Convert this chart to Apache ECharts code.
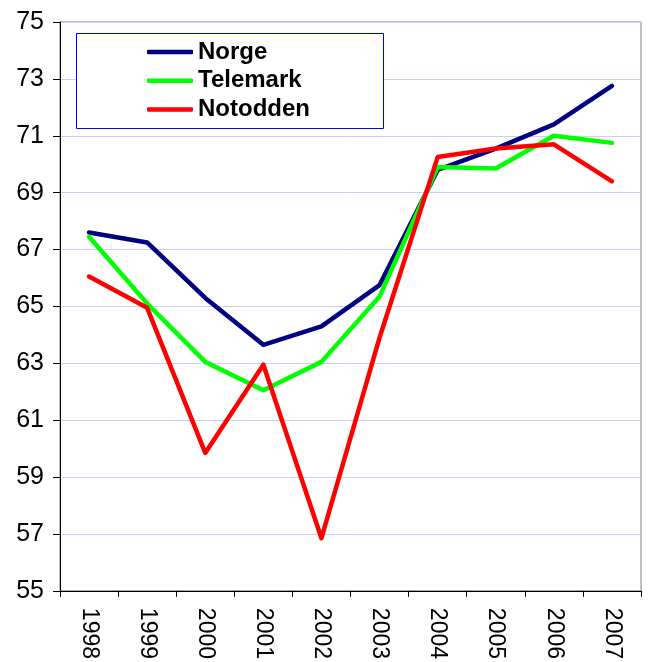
<!DOCTYPE html>
<html><head><meta charset="utf-8">
<script src="https://cdn.jsdelivr.net/npm/echarts@6/dist/echarts.min.js"></script>
<style>html,body{margin:0;padding:0;background:#fff}#c{width:649px;height:662px}</style>
</head><body><div id="c"></div>
<script>
var years = ['1998','1999','2000','2001','2002','2003','2004','2005','2006','2007'];
var norge = [67.6, 67.25, 65.3, 63.65, 64.3, 65.75, 69.8, 70.55, 71.4, 72.75];
var telemark = [67.45, 65.1, 63.05, 62.05, 63.05, 65.35, 69.9, 69.85, 71.0, 70.75];
var notodden = [66.05, 64.95, 59.85, 62.95, 56.85, 63.9, 70.25, 70.55, 70.7, 69.4];
var yTicks = {min: 55, max: 75, interval: 2};

var chart = echarts.init(document.getElementById('c'));
var font = 'Liberation Sans, Arial, sans-serif';
function ser(name, data, color) {
  return {name: name, type: 'line', data: data, symbol: 'none', smooth: false,
    lineStyle: {color: color, width: 4.5, cap: 'round', join: 'round'}, itemStyle: {color: color}};
}
chart.setOption({
  animation: false,
  grid: {left: 60, right: 8, top: 22, bottom: 70, show: true, borderColor: '#808080', borderWidth: 1, containLabel: false},
  graphic: [{type: 'rect', left: 76, top: 33, shape: {width: 307, height: 95}, style: {fill: '#fff', stroke: '#0000ff', lineWidth: 1}, z: 5}],
  legend: {orient: 'vertical', left: 147, top: 40, itemWidth: 46, itemHeight: 4.5, itemGap: 4.7, icon: 'roundRect', z: 10, padding: 0,
    textStyle: {fontFamily: font, fontSize: 24, lineHeight: 24, fontWeight: 'bold', color: '#000'},
    data: ['Norge', 'Telemark', 'Notodden']},
  xAxis: {type: 'category', data: years, boundaryGap: true,
    axisLine: {lineStyle: {color: '#000', width: 1}},
    axisTick: {show: true, length: 6, lineStyle: {color: '#000'}, alignWithLabel: false},
    axisLabel: {rotate: -90, fontFamily: font, fontSize: 23, color: '#000', margin: 17}},
  yAxis: {type: 'value', min: yTicks.min, max: yTicks.max, interval: yTicks.interval,
    axisLine: {show: true, lineStyle: {color: '#000', width: 1}},
    axisTick: {show: true, length: 7, lineStyle: {color: '#000'}},
    splitLine: {lineStyle: {color: '#ccccff', width: 1}},
    axisLabel: {fontFamily: font, fontSize: 25, color: '#000', margin: 16}},
  series: [ser('Norge', norge, '#000080'), ser('Telemark', telemark, '#00ff00'), ser('Notodden', notodden, '#ff0000')]
});
</script></body></html>
